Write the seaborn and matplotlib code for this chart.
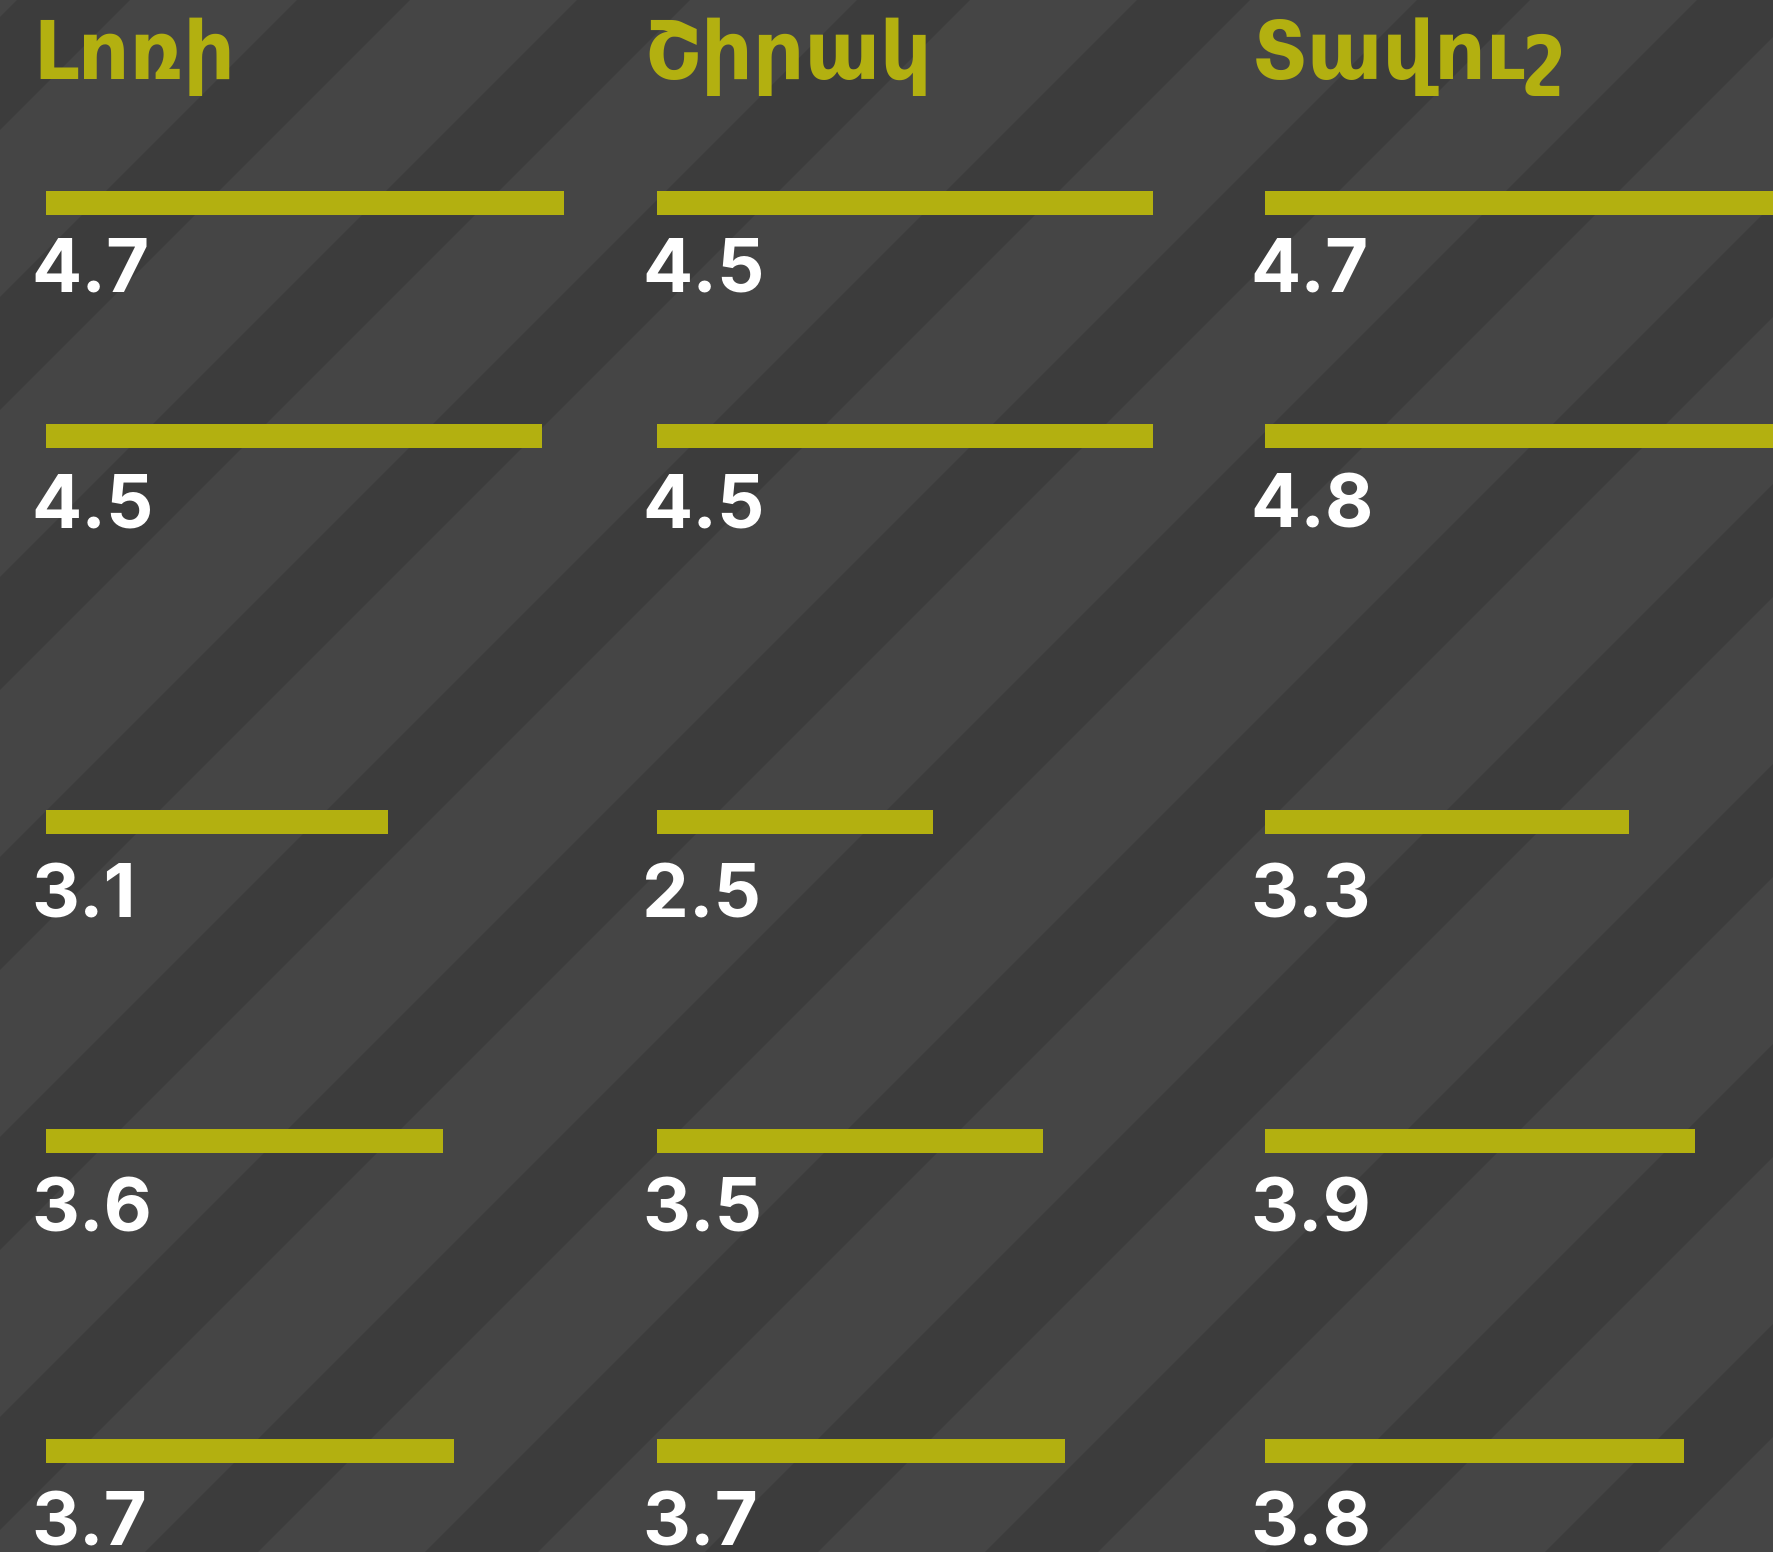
import numpy as np
import pandas as pd
import matplotlib
matplotlib.use("Agg")
import matplotlib.pyplot as plt
import seaborn as sns

# --- data -------------------------------------------------------------
regions = ["Լոռի", "Շիրակ", "Տավուշ"]
lori = [4.7, 4.5, 3.1, 3.6, 3.7]
shirak = [4.5, 4.5, 2.5, 3.5, 3.7]
tavush = [4.7, 4.8, 3.3, 3.9, 3.8]

# --- layout (pixels of the 1773 x 1552 canvas) --------------------------
W, H = 1773, 1552
DPI = 100
COL_LEFT = [46, 657, 1265]            # where each column's bars start
COL_WIDTH = 560
ROW_Y = [203, 436, 822, 1141, 1451]   # bar centres
LABEL_BASE = [291, 528, 918, 1232, 1546]
PX_PER_UNIT = 110.3
BAR_PX = 24

OLIVE = "#b3b010"
DARK = "#3c3c3c"
LIGHT = "#454545"

df = pd.DataFrame({
    "region": np.repeat(regions, len(lori)),
    "item": list(range(len(lori))) * len(regions),
    "value": lori + shirak + tavush,
})
df["row"] = [ROW_Y[i] for i in df["item"]]

sns.set_theme(style="white")
plt.rcParams["font.family"] = ["DejaVu Sans"]

fig = plt.figure(figsize=(W / DPI, H / DPI), dpi=DPI, facecolor=LIGHT)

# striped backdrop
bg = fig.add_axes([0, 0, 1, 1], zorder=0)
bg.set_xlim(0, W)
bg.set_ylim(H, 0)
bg.set_facecolor(LIGHT)
bg.set_axis_off()
period, start, band = 280, 17, 113
for k in range(-7, 14):
    c0 = start + k * period
    c1 = c0 + band
    bg.fill([c0, c1, c1 - H, c0 - H], [0, 0, H, H], color=DARK, lw=0)

bar_width = BAR_PX / np.min(np.diff(ROW_Y))

for region, left in zip(regions, COL_LEFT):
    ax = fig.add_axes([left / W, 0, COL_WIDTH / W, 1], zorder=1)
    sub = df[df["region"] == region]
    sns.barplot(data=sub, x="value", y="row", orient="y", native_scale=True,
                width=bar_width, color=OLIVE, saturation=1, errorbar=None,
                linewidth=0, ax=ax)
    ax.set_xlim(0, COL_WIDTH / PX_PER_UNIT)
    ax.set_ylim(H, 0)
    ax.set_axis_off()
    ax.patch.set_alpha(0)

    ax.text(-13 / PX_PER_UNIT, 79, region, color=OLIVE, fontsize=58,
            fontweight="bold", ha="left", va="baseline",
            family=["DejaVu Sans"])
    for v, yb in zip(sub["value"], LABEL_BASE):
        ax.text(-15 / PX_PER_UNIT, yb, f"{v:.1f}", color="white",
                fontsize=53.5, fontweight="bold", ha="left", va="baseline",
                family=["Inter", "DejaVu Sans"])

fig.savefig("out.png", dpi=DPI, facecolor=LIGHT)
